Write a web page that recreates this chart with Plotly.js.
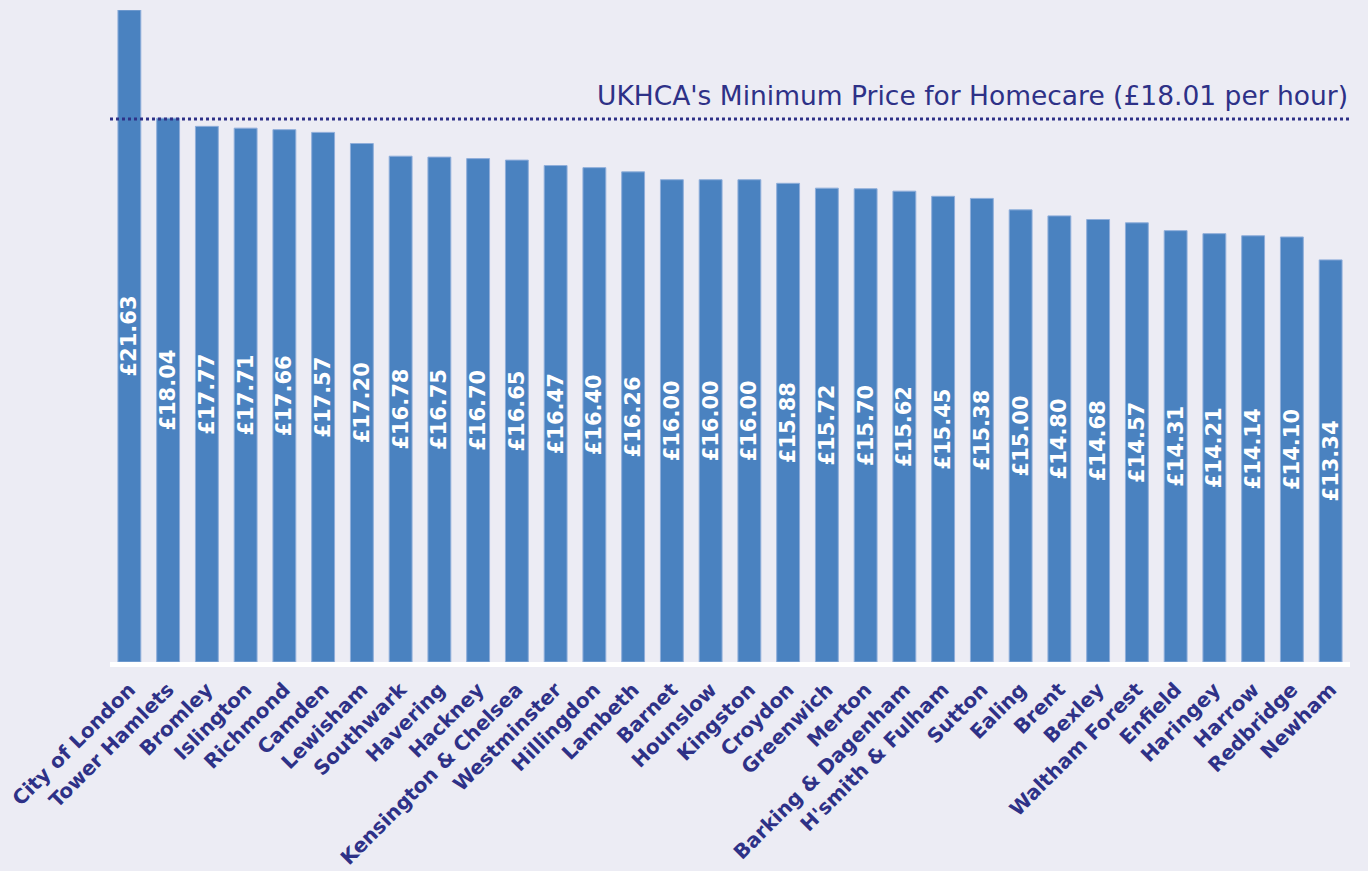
<!DOCTYPE html>
<html><head><meta charset="utf-8">
<script src="https://cdn.plot.ly/plotly-3.0.1.min.js"></script>
<style>html,body{margin:0;padding:0;background:#ECECF4;}#chart{width:1368px;height:871px;}</style>
</head><body><div id="chart"></div>
<script>
const boroughs = ["City of London","Tower Hamlets","Bromley","Islington","Richmond","Camden","Lewisham","Southwark","Havering","Hackney","Kensington & Chelsea","Westminster","Hillingdon","Lambeth","Barnet","Hounslow","Kingston","Croydon","Greenwich","Merton","Barking & Dagenham","H'smith & Fulham","Sutton","Ealing","Brent","Bexley","Waltham Forest","Enfield","Haringey","Harrow","Redbridge","Newham"];
const rates = [21.63,18.04,17.77,17.71,17.66,17.57,17.20,16.78,16.75,16.70,16.65,16.47,16.40,16.26,16.00,16.00,16.00,15.88,15.72,15.70,15.62,15.45,15.38,15.00,14.80,14.68,14.57,14.31,14.21,14.14,14.10,13.34];
const minPrice = 18.01;
const minLabel = "UKHCA's Minimum Price for Homecare (£18.01 per hour)";

const navy = "#2E3187";
const trace = {
  type: "bar", x: boroughs, y: rates,
  marker: {color: "#4A82C0", line: {color: "#8FAEDA", width: 1}},
  text: rates.map(v => "£" + v.toFixed(2)),
  textposition: "inside", insidetextanchor: "middle", textangle: -90,
  constraintext: "none",
  insidetextfont: {family: "DejaVu Sans", size: 21, color: "#FFFFFF", weight: "bold"},
  hoverinfo: "x+y"
};
const layout = {
  width: 1368, height: 871,
  paper_bgcolor: "#ECECF4", plot_bgcolor: "#ECECF4",
  margin: {l: 110, r: 18, t: 10, b: 209},
  bargap: 0.41,
  showlegend: false,
  xaxis: {
    tickangle: -45, showgrid: false, zeroline: false,
    showline: true, linecolor: "#FFFFFF", linewidth: 5,
    ticks: "", ticklabelstandoff: 3,
    tickfont: {family: "DejaVu Sans", size: 20, color: navy, weight: "bold"}
  },
  yaxis: {range: [0, 21.63], showgrid: false, zeroline: false, showticklabels: false, showline: false},
  shapes: [{type: "line", xref: "paper", x0: 0, x1: 1, yref: "y", y0: minPrice, y1: minPrice,
    line: {color: navy, width: 3, dash: "dot"}}],
  annotations: [{xref: "paper", x: 1, xanchor: "right", yref: "y", y: minPrice, yanchor: "bottom",
    yshift: 6, text: minLabel, showarrow: false,
    font: {family: "DejaVu Sans", size: 26.5, color: navy}}]
};
Plotly.newPlot("chart", [trace], layout, {displayModeBar: false});
</script></body></html>
